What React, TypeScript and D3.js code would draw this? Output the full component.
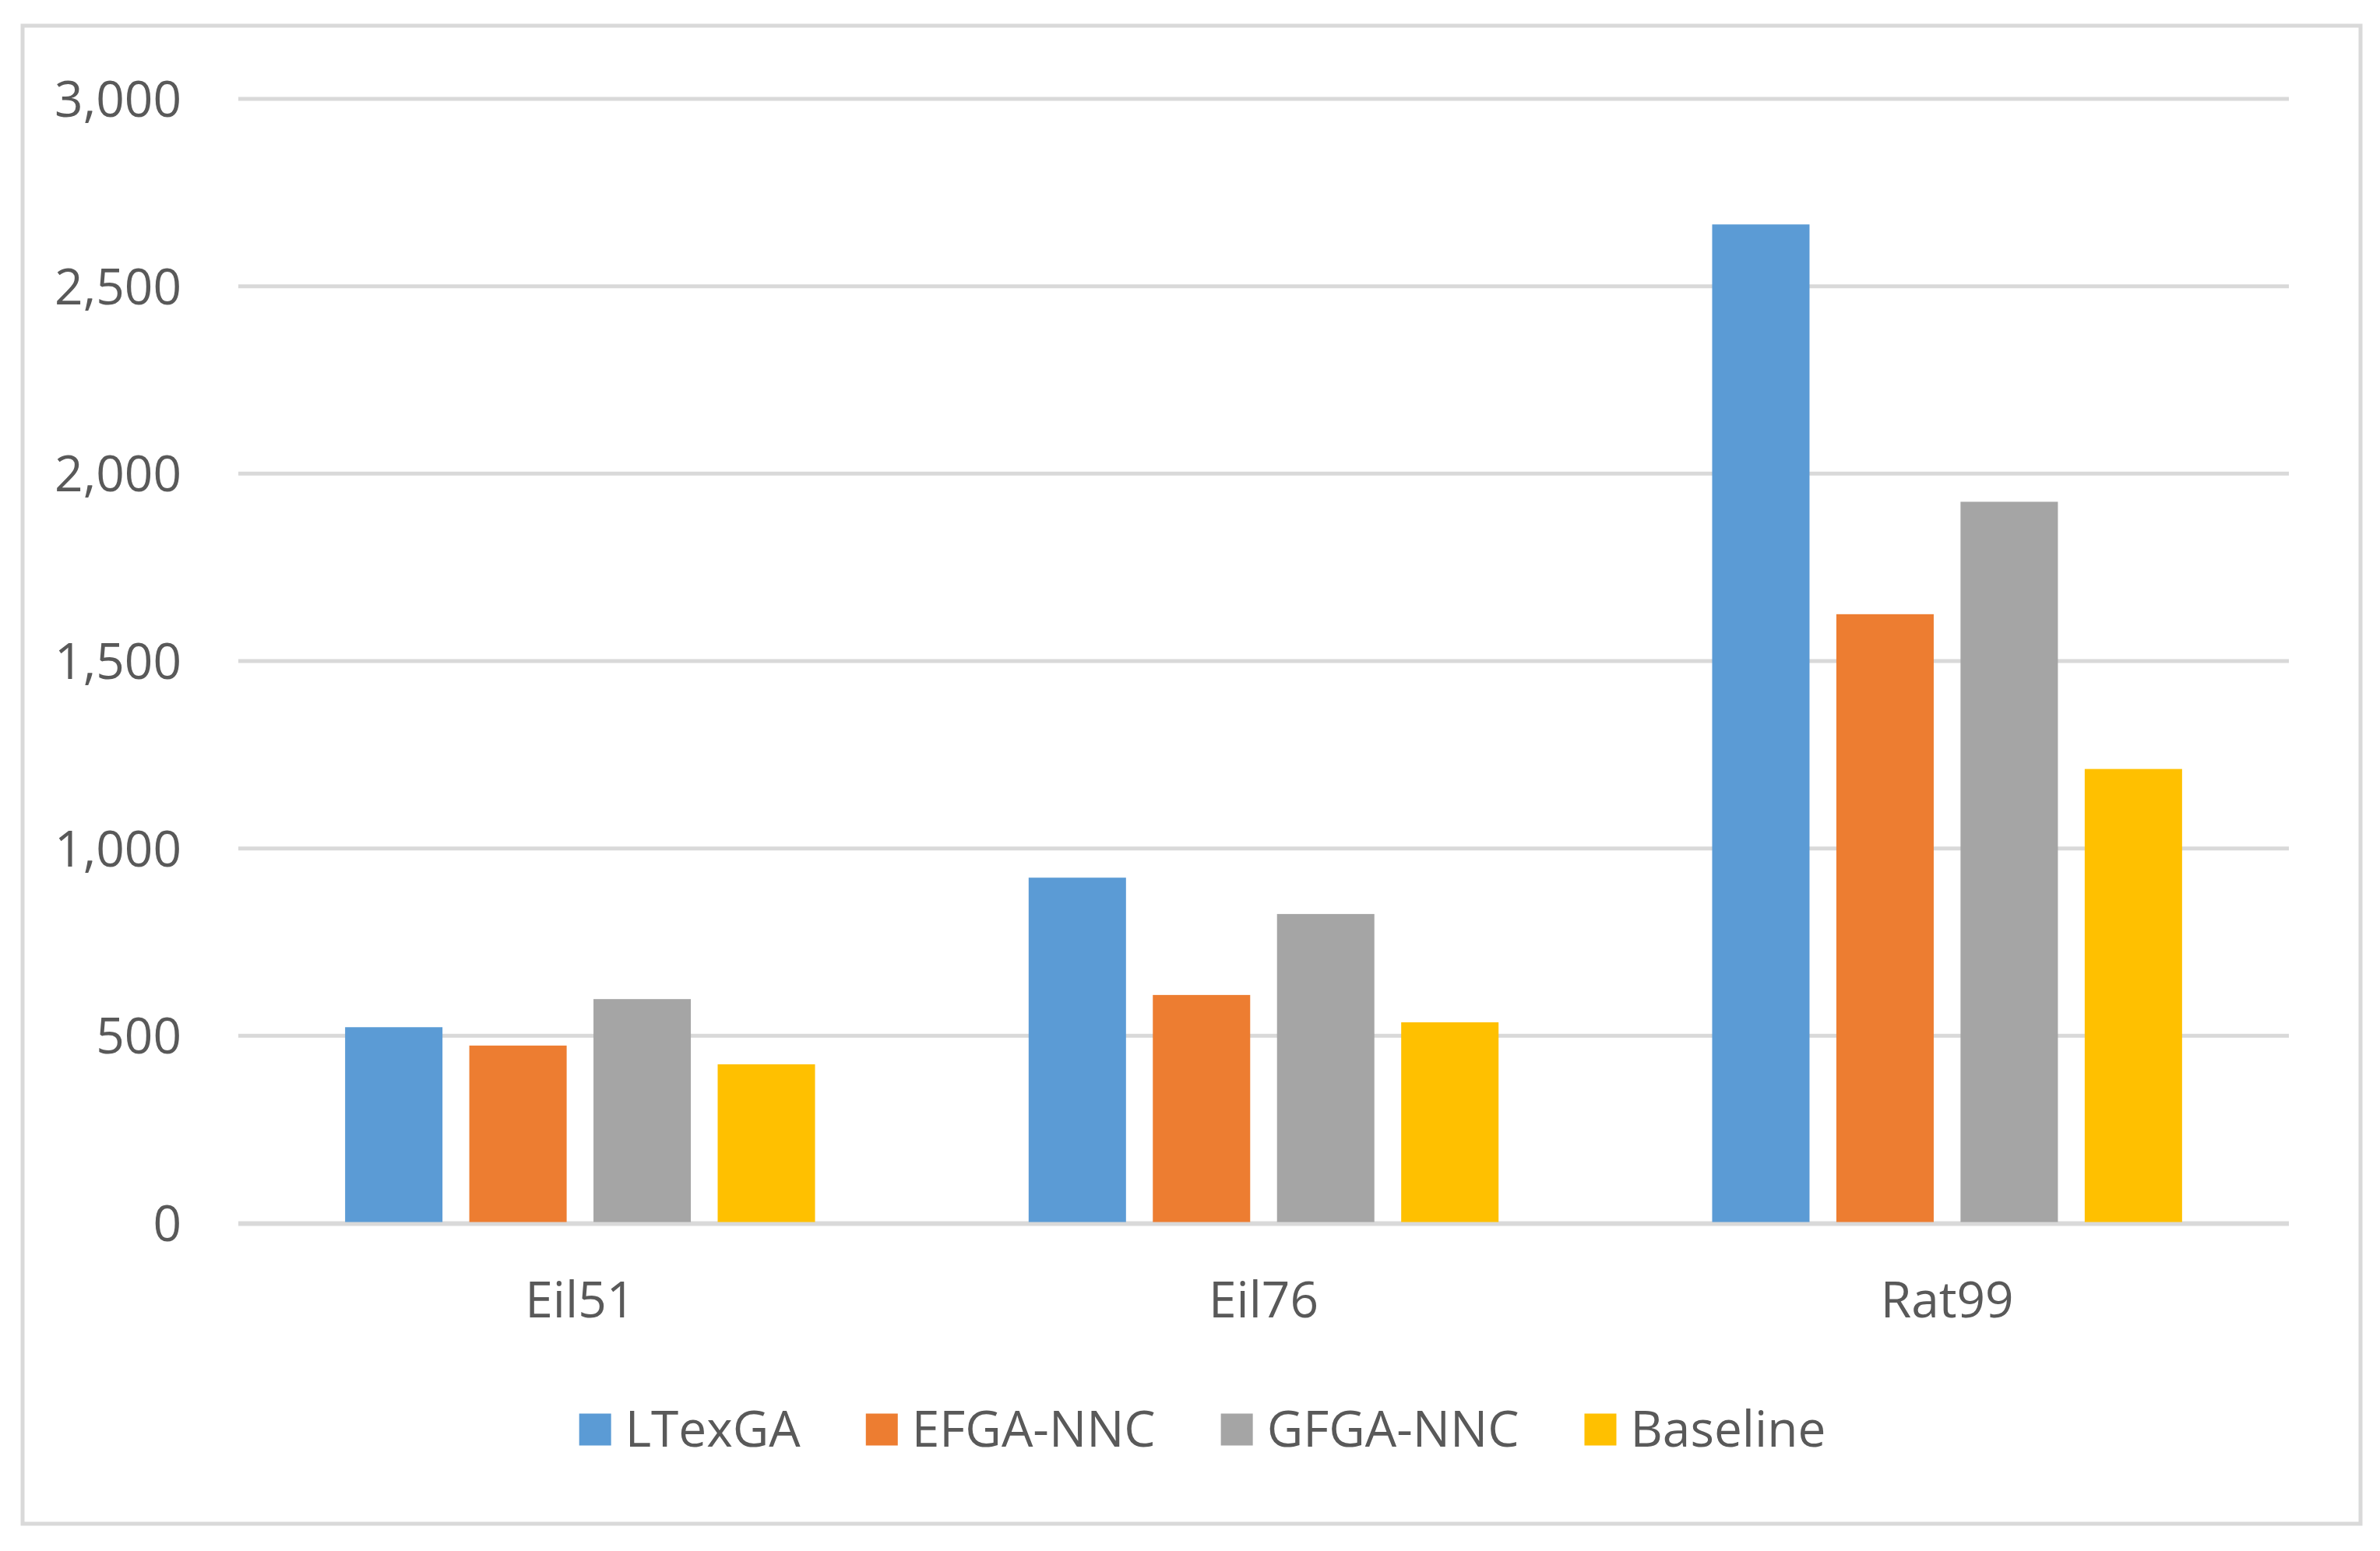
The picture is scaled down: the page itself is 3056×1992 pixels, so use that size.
import { useEffect } from "react";
import * as d3 from "d3";

const categories = ["Eil51", "Eil76", "Rat99"];
const seriesNames = ["LTexGA", "EFGA-NNC", "GFGA-NNC", "Baseline"];
const seriesColors = ["#5B9BD5", "#ED7D31", "#A5A5A5", "#FFC000"];

// values
const ltexga = [523, 922, 2665];
const efgaNnc = [474, 609, 1625];
const gfgaNnc = [598, 825, 1925];
const baseline = [424, 536, 1212];

const yTicks = [0, 500, 1000, 1500, 2000, 2500, 3000];

const W = 3056;
const H = 1992;
const FONT = "'Open Sans', 'Noto Sans', sans-serif";
const TEXT = "#595959";
const GRID = "#d9d9d9";

export default function App() {
    useEffect(() => {
        document.body.style.margin = "0";
    }, []);

    const values = [ltexga, efgaNnc, gfgaNnc, baseline];

    const x0 = d3.scaleBand<string>().domain(categories).range([306, 2939]).padding(0);
    const x1 = d3
        .scaleBand<string>()
        .domain(seriesNames)
        .range([0, x0.bandwidth()])
        .paddingInner(0.216)
        .paddingOuter(0.86);
    const y = d3.scaleLinear().domain([0, 3000]).range([1571, 127]);
    const fmt = d3.format(",");

    // legend layout: swatch, gap, label, spacing
    const fontSize = 64;
    const sw = 41;
    const labelGap = 18;
    const itemGap = 84;
    const measure = (s: string) => {
        const c = document.createElement("canvas").getContext("2d")!;
        c.font = `${fontSize}px 'Open Sans'`;
        return c.measureText(s).width;
    };
    const widths = seriesNames.map(measure);
    const total =
        d3.sum(widths) + seriesNames.length * (sw + labelGap) + (seriesNames.length - 1) * itemGap;
    let cursor = 1544 - total / 2;
    const legendItems = seriesNames.map((name, i) => {
        const x = cursor;
        cursor += sw + labelGap + widths[i] + itemGap;
        return { name, x, color: seriesColors[i] };
    });
    const legendY = 1836;

    return (
        <svg width={W} height={H} style={{ display: "block", background: "#fff" }} fontFamily={FONT}>
            <rect x={29} y={33} width={3002} height={1924} fill="#fff" stroke={GRID} strokeWidth={5} />

            {/* gridlines */}
            {yTicks.map((t) => (
                <line key={t} x1={306} x2={2939} y1={y(t)} y2={y(t)} stroke={GRID} strokeWidth={5} />
            ))}

            {/* y tick labels */}
            {yTicks.map((t) => (
                <text
                    key={"l" + t}
                    x={233}
                    y={y(t) + 23}
                    textAnchor="end"
                    fontSize={fontSize}
                    fill={TEXT}
                >
                    {fmt(t)}
                </text>
            ))}

            {/* bars */}
            {categories.map((cat, ci) => (
                <g key={cat} transform={`translate(${x0(cat)},0)`}>
                    {seriesNames.map((s, si) => (
                        <rect
                            key={s}
                            x={x1(s)}
                            y={y(values[si][ci])}
                            width={x1.bandwidth()}
                            height={y(0) - y(values[si][ci])}
                            fill={seriesColors[si]}
                        />
                    ))}
                </g>
            ))}

            {/* category axis line */}
            <line x1={306} x2={2939} y1={y(0) + 1} y2={y(0) + 1} stroke={GRID} strokeWidth={5} />

            {/* category labels */}
            {categories.map((cat) => (
                <text
                    key={cat}
                    x={x0(cat)! + x0.bandwidth() / 2}
                    y={1692}
                    textAnchor="middle"
                    fontSize={fontSize}
                    fill={TEXT}
                >
                    {cat}
                </text>
            ))}

            {/* legend */}
            {legendItems.map((it) => (
                <g key={it.name}>
                    <rect x={it.x} y={legendY - sw / 2} width={sw} height={sw} fill={it.color} />
                    <text x={it.x + sw + labelGap} y={legendY + 22} fontSize={fontSize} fill={TEXT}>
                        {it.name}
                    </text>
                </g>
            ))}
        </svg>
    );
}
